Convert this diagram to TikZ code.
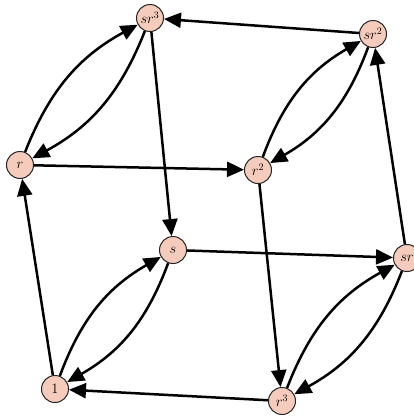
\documentclass[tikz,border=0pt]{standalone}
\usetikzlibrary{arrows.meta}
\definecolor{elemfill}{RGB}{245,204,188}
\begin{document}
\begin{tikzpicture}[x=1pt,y=1pt,
  elem/.style={circle,draw=black!85,line width=1pt,fill=elemfill,minimum size=27pt,inner sep=0pt,font=\Large},
  edge/.style={-{Triangle[length=17pt,width=15pt]},draw=black,line width=2.5pt},
  pair/.style={edge,bend left=20},
]
\useasboundingbox (0,0) rectangle (414,-416);
\node[elem] (sr3) at (150,-18) {$sr^3$};
\node[elem] (sr2) at (373,-34) {$sr^2$};
\node[elem] (r) at (20,-165) {$r$};
\node[elem] (r2) at (258,-170) {$r^2$};
\node[elem] (s) at (173,-250) {$s$};
\node[elem] (sr) at (407,-258) {$sr$};
\node[elem] (e) at (55,-389) {$1$};
\node[elem] (r3) at (282,-401) {$r^3$};
\draw[edge] (sr2) -- (sr3);
\draw[edge] (sr3) -- (s);
\draw[edge] (r) -- (r2);
\draw[edge] (r2) -- (r3);
\draw[edge] (sr) -- (sr2);
\draw[edge] (e) -- (r);
\draw[edge] (s) -- (sr);
\draw[edge] (r3) -- (e);
\foreach \a/\b in {r/sr3,r2/sr2,e/s,r3/sr}{\draw[pair] (\a) to (\b); \draw[pair] (\b) to (\a);}
\end{tikzpicture}
\end{document}
